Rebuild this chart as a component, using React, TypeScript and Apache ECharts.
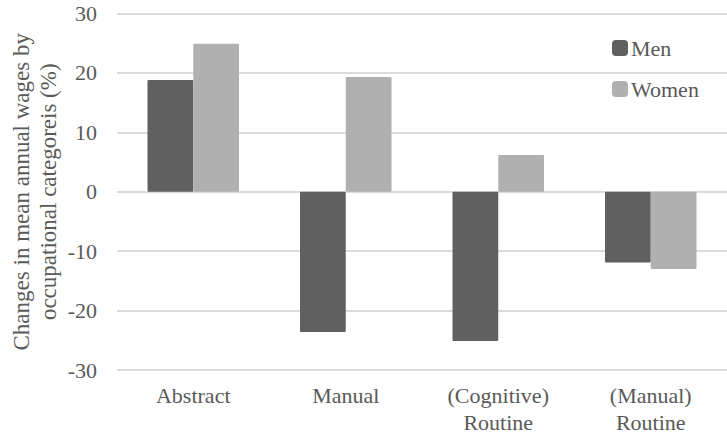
import React, { useEffect, useRef } from "react";
import * as echarts from "echarts";

const categories = ["Abstract", "Manual", "(Cognitive)\nRoutine", "(Manual)\nRoutine"];
const menValues = [18.8, -23.6, -25.1, -11.9];
const womenValues = [24.9, 19.3, 6.2, -13.0];
const yTicks = { min: -30, max: 30, interval: 10 };
const yAxisTitle = "Changes in mean annual wages by\noccupational categoreis (%)";

const FONT = "serif";
const TEXT = "#595959";

export default function App() {
  const ref = useRef<HTMLDivElement>(null);
  useEffect(() => {
    if (!ref.current) return;
    const chart = echarts.init(ref.current, undefined, { renderer: "svg" });
    chart.setOption({
      animation: false,
      backgroundColor: "#ffffff",
      textStyle: { fontFamily: FONT },
      grid: { left: 117, right: 0, top: 13.5, bottom: 70, containLabel: false, outerBoundsMode: "none" },
      legend: {
        orient: "vertical",
        left: 607,
        top: 32,
        itemWidth: 16,
        itemHeight: 16,
        itemGap: 19,
        icon: "roundRect",
        textStyle: { fontFamily: FONT, fontSize: 22, color: TEXT, padding: [0, 0, 0, -2] },
        data: ["Men", "Women"],
      },
      xAxis: {
        type: "category",
        data: categories,
        axisLine: { show: false, onZero: false },
        axisTick: { show: false },
        axisLabel: {
          fontFamily: FONT,
          fontSize: 22,
          color: TEXT,
          margin: 12,
          lineHeight: 27,
          interval: 0,
        },
      },
      yAxis: {
        type: "value",
        min: yTicks.min,
        max: yTicks.max,
        interval: yTicks.interval,
        name: yAxisTitle,
        nameLocation: "middle",
        nameGap: 55,
        nameMoveOverlap: false,
        nameRotate: 90,
        nameTextStyle: { fontFamily: FONT, fontSize: 23, color: TEXT, lineHeight: 27, align: "center" },
        axisLine: { show: false },
        axisTick: { show: false },
        axisLabel: { fontFamily: FONT, fontSize: 22, color: TEXT, margin: 20 },
        splitLine: { lineStyle: { color: "#cfcfcf", width: 1.5 } },
      },
      series: [
        {
          name: "Men",
          type: "bar",
          data: menValues,
          barGap: "0%",
          barCategoryGap: "40%",
          itemStyle: { color: "#606060", borderRadius: 1 },
        },
        {
          name: "Women",
          type: "bar",
          data: womenValues,
          barGap: "0%",
          barCategoryGap: "40%",
          itemStyle: { color: "#b0b0b0", borderRadius: 1 },
        },
      ],
    });
    return () => chart.dispose();
  }, []);
  return (
    <div
      ref={ref}
      style={{ position: "absolute", left: 0, top: 0, width: 727, height: 440 }}
    />
  );
}
